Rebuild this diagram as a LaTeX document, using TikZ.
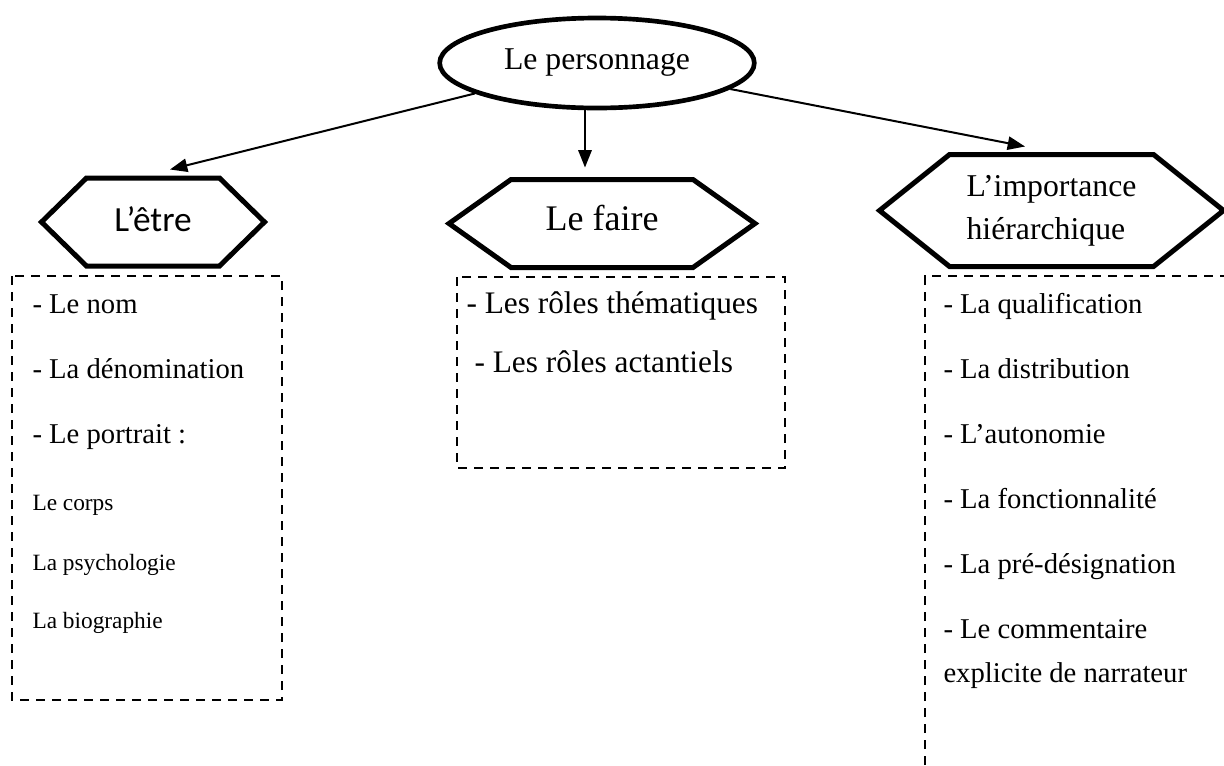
\documentclass[tikz,border=0pt]{standalone}
\usepackage{fontspec}
\setmainfont{Liberation Serif}
\newfontfamily\calibrifont{Carlito}
\usetikzlibrary{shapes.geometric,arrows.meta,calc}

\tikzset{every picture/.style={line width=0.75pt}}
\tikzset{
  hexa/.style={draw=none,inner sep=0pt},
  arr/.style={line width=1.5pt,-{Triangle[length=13pt,width=10pt]}},
  dashbox/.style={line width=1.9pt,dash pattern=on 7pt off 5pt},
  item/.style={anchor=base west,inner sep=0pt,font=\fontsize{21.5}{26}\selectfont},
  subitem/.style={anchor=base west,inner sep=0pt,font=\fontsize{17.5}{21}\selectfont}
}
\newcommand{\hexpath}[2]{%
  \draw[line width=3.75pt,line join=miter] (#1.west) -- ([xshift=#2]#1.north west) -- ([xshift=-#2]#1.north east)
    -- (#1.east) -- ([xshift=-#2]#1.south east) -- ([xshift=#2]#1.south west) -- cycle;}

\begin{document}
\begin{tikzpicture}[x=0.75pt,y=0.75pt,yscale=-1,xscale=1]

        \useasboundingbox (0,0) rectangle (1224,765);

        \node[ellipse,draw,line width=3.5pt,minimum width=236pt,minimum height=67.5pt,inner sep=0pt,
              font=\fontsize{23.8}{28}\selectfont] (perso) at (597,63) {Le personnage};

        \node[hexa,minimum width=166.5pt,minimum height=65.25pt,text depth=4.5pt,
              font=\calibrifont\fontsize{26.5}{30}\selectfont] (etre) at (153,222) {L’être};
        \node[hexa,minimum width=228.75pt,minimum height=65.25pt,text depth=8pt,
              font=\fontsize{27}{32}\selectfont] (faire) at (602,223.5) {Le faire};
        \node[hexa,minimum width=257.25pt,minimum height=83.25pt,align=left,
              font=\fontsize{23.8}{32.25}\selectfont] (imp) at (1051.5,210.5) {L’importance\\hiérarchique};

        \hexpath{etre}{33.75pt}
        \hexpath{faire}{46.5pt}
        \hexpath{imp}{52.5pt}

        \draw[arr] (perso) -- ($(etre.north)+(17,-8.5)$);
        \draw[arr] ($(perso.south)+(-12,0)$) -- ($(faire.north)+(-17,-12)$);
        \draw[arr] (perso) -- ($(imp.north)+(-26.5,-8)$);

        \draw[dashbox] (12,276) rectangle (282,700);
        \draw[dashbox] (457,277) rectangle (785,468);
        \draw[dashbox] (925,765) -- (925,276) -- (1224,276);

        \node[item] (nom) at (32,313) {- Le nom};
        \node[item] (denom) at (32,378) {- La dénomination};
        \node[item] (portrait) at (32,443) {- Le portrait :};
        \node[subitem] (corps) at (32,510) {Le corps};
        \node[subitem] (psycho) at (32,570) {La psychologie};
        \node[subitem] (bio) at (32,628) {La biographie};

        \node[item,font=\fontsize{23.5}{28}\selectfont] (thema) at (466,313) {- Les rôles thématiques};
        \node[item,font=\fontsize{23.5}{28}\selectfont] (actant) at (474,372) {- Les rôles actantiels};

        \node[item] (qualif) at (943,313) {- La qualification};
        \node[item] (distrib) at (943,378) {- La distribution};
        \node[item] (autonom) at (943,443) {- L’autonomie};
        \node[item] (fonction) at (943,508) {- La fonctionnalité};
        \node[item] (predesig) at (943,573) {- La pré-désignation};
        \node[item] (comment) at (943,638) {- Le commentaire};
        \node[item] (explicite) at (943,682) {explicite de narrateur};

\end{tikzpicture}
\end{document}
